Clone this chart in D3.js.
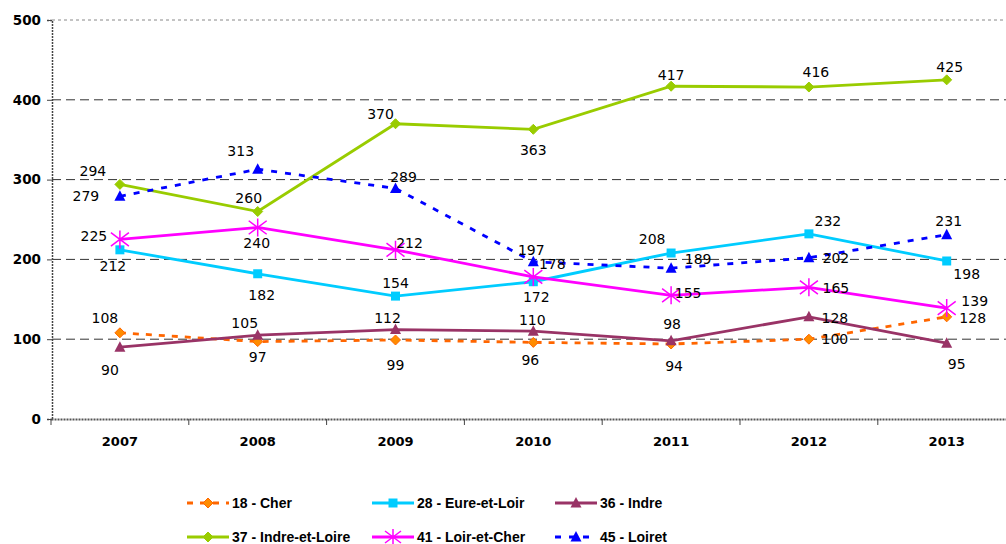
<!DOCTYPE html>
<html>
<head>
<meta charset="utf-8">
<script src="https://cdn.jsdelivr.net/npm/d3@7"></script>
<style>
  body { margin: 0; background: #fff; }
  text { font-family: "DejaVu Sans", Verdana, sans-serif; }
</style>
</head>
<body>
<div id="chart"></div>
<script>
const years = ["2007", "2008", "2009", "2010", "2011", "2012", "2013"];
const yTicks = [0, 100, 200, 300, 400, 500];

const cher = [108, 97, 99, 96, 94, 100, 128];
const eureEtLoir = [212, 182, 154, 172, 208, 232, 198];
const indre = [90, 105, 112, 110, 98, 128, 95];
const indreEtLoire = [294, 260, 370, 363, 417, 416, 425];
const loirEtCher = [225, 240, 212, 178, 155, 165, 139];
const loiret = [279, 313, 289, 197, 189, 202, 231];

const seriesNames = ["18 - Cher", "28 - Eure-et-Loir", "36 - Indre",
    "37 - Indre-et-Loire", "41 - Loir-et-Cher", "45 - Loiret"];

// label offsets (dx, dy) from each point
const labelOffsets = {
    "18 - Cher": [[-15, -15], [0, 15], [0, 25], [-3, 18], [3, 22], [26, 0], [26, 1]],
    "28 - Eure-et-Loir": [[-7, 16], [4, 21], [0, -13], [3, 15], [-19, -14], [19, -13], [20, 13]],
    "36 - Indre": [[-10, 23], [-13, -12], [-8, -12], [-1, -11], [1, -17], [26, 1], [10, 21]],
    "37 - Indre-et-Loire": [[-27, -13], [-9, -14], [-15, -10], [0, 21], [0, -11], [7, -15], [3, -13]],
    "41 - Loir-et-Cher": [[-26, -3], [-1, 16], [14, -7], [19, -13], [17, -2], [27, 1], [28, -7]],
    "45 - Loiret": [[-34, 0], [-17, -18], [8, -11], [-2, -12], [27, -9], [27, 0], [2, -14]]
};

const series = [
    {name: seriesNames[0], values: cher, color: "#FF6600", fill: "#FF8C00", dash: "6,7", marker: "diamond"},
    {name: seriesNames[1], values: eureEtLoir, color: "#00CCFF", fill: "#00CCFF", dash: null, marker: "square"},
    {name: seriesNames[2], values: indre, color: "#993366", fill: "#993366", dash: null, marker: "triangle"},
    {name: seriesNames[3], values: indreEtLoire, color: "#99CC00", fill: "#99CC00", dash: null, marker: "diamond"},
    {name: seriesNames[4], values: loirEtCher, color: "#FF00FF", fill: "none", dash: null, marker: "star"},
    {name: seriesNames[5], values: loiret, color: "#0000FF", fill: "#0000FF", dash: "6,8", marker: "triangle"}
];

const W = 1006, H = 544;
const svg = d3.select("#chart").append("svg")
    .attr("width", W).attr("height", H);

const x = d3.scaleBand().domain(years).range([51, 51 + 7 * 137.8]).padding(0);
const y = d3.scaleLinear().domain([0, 500]).range([419, 20]);
const cx = d => x(d) + x.bandwidth() / 2;

// gridlines
svg.append("g").selectAll("line")
    .data(yTicks.filter(t => t > 0))
    .enter().append("line")
    .attr("x1", 52).attr("x2", W)
    .attr("y1", d => y(d)).attr("y2", d => y(d))
    .attr("stroke", d => d === 500 ? "#888" : "#333")
    .attr("stroke-width", 1)
    .attr("stroke-dasharray", d => d === 500 ? "3,3" : "9,5");

// y axis
const yAxis = svg.append("g")
    .attr("transform", "translate(52,0)")
    .call(d3.axisLeft(y).tickValues(yTicks).tickSize(5).tickPadding(6));
yAxis.select(".domain").attr("stroke", "#444").attr("stroke-dasharray", "2,1").attr("stroke-width", 1.5);
yAxis.selectAll(".tick line").attr("stroke", "#444");
yAxis.selectAll(".tick text")
    .style("font-family", "'DejaVu Sans', sans-serif")
    .style("font-size", "13.5px").style("font-weight", "bold").attr("fill", "#000");

// x axis
const xAxis = svg.append("g")
    .attr("transform", `translate(0,${y(0)})`)
    .call(d3.axisBottom(x).tickSize(0).tickPadding(18));
xAxis.select(".domain").attr("stroke", "#555").attr("stroke-dasharray", "2,1").attr("stroke-width", 2);
xAxis.selectAll(".tick text")
    .style("font-family", "'DejaVu Sans', sans-serif")
    .style("font-size", "13px").style("font-weight", "bold").attr("fill", "#000");
xAxis.selectAll(".boundary")
    .data(years)
    .enter().append("line")
    .attr("x1", d => x(d)).attr("x2", d => x(d))
    .attr("y1", 0).attr("y2", 6)
    .attr("stroke", "#444");

function drawMarker(g, type, color, fill, s) {
    let d;
    if (type === "star") {
        const r = s;
        g.append("path")
            .attr("d", `M0,${-r}L0,${r}M${-r},${-r * 0.75}L${r},${r * 0.75}M${-r},${r * 0.75}L${r},${-r * 0.75}`)
            .attr("stroke", color).attr("stroke-width", 1.5).attr("fill", "none");
        return;
    }
    if (type === "diamond") d = "M0,-5L5,0L0,5L-5,0Z";
    else if (type === "square") d = "M-4.5,-4.5H4.5V4.5H-4.5Z";
    else d = "M0,-6L5.5,4.5H-5.5Z";
    g.append("path").attr("d", d).attr("fill", fill)
        .attr("stroke", type === "diamond" ? color : "none").attr("stroke-width", 1);
}

const line = d3.line().x((d, i) => cx(years[i])).y(d => y(d));

series.forEach(s => {
    svg.append("path")
        .datum(s.values)
        .attr("d", line)
        .attr("fill", "none")
        .attr("stroke", s.color)
        .attr("stroke-width", 2.8)
        .attr("stroke-dasharray", s.dash);

    s.values.forEach((v, i) => {
        const g = svg.append("g").attr("transform", `translate(${cx(years[i])},${y(v)})`);
        drawMarker(g, s.marker, s.color, s.fill, 9);
    });
});

// value labels
series.forEach(s => {
    svg.append("g").selectAll("text")
        .data(s.values)
        .enter().append("text")
        .attr("x", (d, i) => cx(years[i]) + labelOffsets[s.name][i][0])
        .attr("y", (d, i) => y(d) + labelOffsets[s.name][i][1] + 5)
        .attr("text-anchor", "middle")
        .style("font-size", "14px")
        .attr("fill", "#000")
        .text(d => d);
});

// legend
const legendCols = [187, 372, 555];
const legendRows = [503, 537];
series.forEach((s, i) => {
    const lx = legendCols[i % 3], ly = legendRows[Math.floor(i / 3)];
    const g = svg.append("g").attr("transform", `translate(${lx},${ly})`);
    g.append("line")
        .attr("x1", 0).attr("x2", 42).attr("y1", 0).attr("y2", 0)
        .attr("stroke", s.color).attr("stroke-width", 2.8)
        .attr("stroke-dasharray", s.dash);
    const m = g.append("g").attr("transform", "translate(21,0)");
    drawMarker(m, s.marker, s.color, s.fill, 8);
    g.append("text")
        .attr("x", 45).attr("y", 5)
        .style("font-family", "'Liberation Sans', Arial, sans-serif")
        .style("font-size", "14px").style("font-weight", "bold")
        .attr("fill", "#000")
        .text(s.name);
});
</script>
</body>
</html>
